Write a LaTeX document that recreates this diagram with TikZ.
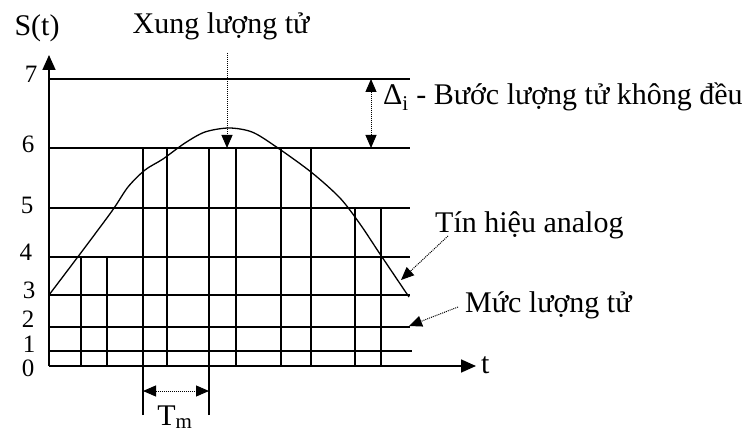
\documentclass[tikz,border=0pt]{standalone}
\usepackage{fontspec}
\setmainfont{Liberation Serif}
\usetikzlibrary{arrows.meta}
\begin{document}
\begin{tikzpicture}[x=1pt,y=-1pt,
  grid/.style={line width=1.7pt},
  ptr/.style={densely dotted, line width=1pt, -{Triangle[length=13pt,width=11pt]}},
  dptr/.style={densely dotted, line width=1pt, {Triangle[length=13pt,width=11pt]}-{Triangle[length=13pt,width=11pt]}},
  axarrow/.style={line width=1.7pt, -{Triangle[length=15pt,width=13pt]}},
  lbl/.style={font=\fontsize{30}{32}\selectfont, inner sep=0pt, anchor=base west},
  num/.style={font=\fontsize{25}{27}\selectfont, inner sep=0pt, anchor=base}]
\useasboundingbox (0,0) rectangle (752,433);
% level lines
\foreach \yy in {79,148,208,257,295,327} \draw[grid] (49,\yy) -- (410,\yy);
\draw[grid] (49,351) -- (412,351);
% pulses
\draw[grid] (81,366) -- (81,257) -- (107,257) -- (107,366);
\draw[grid] (143,415) -- (143,148) -- (167,148) -- (167,366);
\draw[grid] (209,415) -- (209,148) -- (236,148) -- (236,366);
\draw[grid] (281,366) -- (281,148) -- (311,148) -- (311,366);
\draw[grid] (355,366) -- (355,208) -- (381,208) -- (381,366);
% axes
\coordinate (o) at (49,366);
\coordinate (ytip) at (49,55);
\coordinate (xtip) at (476,366);
\draw[axarrow] (o) -- (ytip);
\draw[axarrow] (o) -- (xtip);
% analog signal
\draw[line width=1.3pt] plot[smooth, tension=0.5] coordinates {(49,295) (80,254) (112,211) (128,187) (145,170) (163,159) (185,143) (205,132) (229,128) (252,132) (275,146) (311,172) (340,198) (360,224) (380,254) (409,297)};
% numbers
\node[num] (n7) at (31,83) {7};
\node[num] (n6) at (28,153) {6};
\node[num] (n5) at (27,213) {5};
\node[num] (n4) at (26,260) {4};
\node[num] (n3) at (29,298) {3};
\node[num] (n2) at (28,327) {2};
\node[num] (n1) at (29,352) {1};
\node[num] (n0) at (28,376) {0};
% labels
\node[lbl, anchor=base] (st) at (37,36) {S(t)};
\node[lbl, anchor=base] (xung) at (221,34) {Xung lượng tử};
\node[lbl] (delta) at (383,105) {Δ\textsubscript{i} - Bước lượng tử không đều};
\node[lbl] (tin) at (435,232) {Tín hiệu analog};
\node[lbl] (muc) at (465,312) {Mức lượng tử};
\node[lbl] (t) at (481,373) {t};
\node[lbl, anchor=base] (tm) at (175,425) {T\textsubscript{m}};
% pointers
\coordinate (xs) at (227,53);
\coordinate (xe) at (227,148);
\draw[ptr] (xs) -- (xe);
\coordinate (ds) at (371,79);
\coordinate (de) at (371,148);
\draw[dptr] (ds) -- (de);
\coordinate (ts) at (143,391);
\coordinate (te) at (209,391);
\draw[dptr] (ts) -- (te);
\coordinate (as) at (448,236);
\coordinate (ae) at (401,280);
\draw[ptr] (as) -- (ae);
\coordinate (ms) at (458,307);
\coordinate (me) at (409,326);
\draw[ptr] (ms) -- (me);
\end{tikzpicture}
\end{document}
